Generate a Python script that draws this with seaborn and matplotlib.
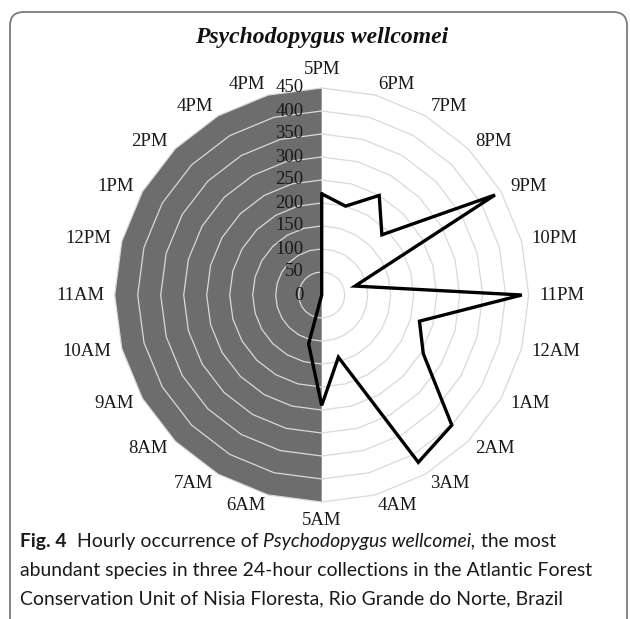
import numpy as np
import pandas as pd
import matplotlib
matplotlib.use("Agg")
import matplotlib.pyplot as plt
import seaborn as sns
from matplotlib.patches import FancyBboxPatch
from matplotlib.font_manager import FontProperties

# ---------------- data ----------------
hours = ["5PM", "6PM", "7PM", "8PM", "9PM", "10PM", "11PM", "12AM", "1AM", "2AM",
         "3AM", "4AM", "5AM", "6AM", "7AM", "8AM", "9AM", "10AM", "11AM", "12PM",
         "1PM", "2PM", "4PM", "4PM"]
counts = [220, 200, 250, 185, 435, 75, 435, 220, 255, 400,
          420, 140, 240, 110, 0, 0, 0, 0, 0, 0,
          0, 0, 0, 0]
r_ticks = [0, 50, 100, 150, 200, 250, 300, 350, 400, 450]
title = "Psychodopygus wellcomei"

# ---------------- figure ----------------
sns.set_theme(style="white")
W, H = 630, 619
fig = plt.figure(figsize=(W / 100, H / 100), dpi=100)
fig.patch.set_facecolor("white")

cx, cy, R = 321.7, 295.0, 207.0  # pixel geometry (from top)
ax = fig.add_axes([(cx - R) / W, (H - cy - R) / H, 2 * R / W, 2 * R / H],
                  projection="polar")
ax.set_theta_zero_location("N")
ax.set_theta_direction(-1)
ax.set_facecolor("none")

n = len(hours)
theta = np.arange(n) * 2 * np.pi / n
rmax = r_ticks[-1]

# shaded (daytime) half
half_t = np.r_[theta[n // 2:], 2 * np.pi, 0.0]
half_r = np.r_[[rmax] * (n // 2 + 1), 0.0]
ax.fill(half_t, half_r, color="#6d6d6d", lw=0, zorder=1, clip_on=False)

# polygonal gridlines
for r in r_ticks[1:]:
    ax.plot(np.r_[theta, 2 * np.pi], [r] * (n + 1), color="#d9d9d9", lw=0.9,
            zorder=2, clip_on=False)

# data line
df = pd.DataFrame({"theta": np.r_[theta, 2 * np.pi],
                   "count": np.r_[counts, counts[0]]})
sns.lineplot(data=df, x="theta", y="count", sort=False, estimator=None,
             color="black", lw=2.4, ax=ax, zorder=3)
for l in ax.lines[-1:]:
    l.set_solid_joinstyle("miter")
    l.set_clip_on(False)

ax.set_ylim(0, rmax)
ax.grid(False)
ax.spines["polar"].set_visible(False)
ax.set_xticks([])
ax.set_yticks([])
ax.set_xlabel("")
ax.set_ylabel("")

serif = "Liberation Serif"
# radial tick labels
for v in r_ticks:
    ax.annotate(str(v), xy=(0, v), xytext=(-13, 0), textcoords="offset points",
                ha="right", va="center", family=serif, fontsize=13.5,
                color="#1a1a1a", zorder=4)

# category labels
k = 7.5
for t, lab in zip(theta, hours):
    s, c = np.sin(t), np.cos(t)
    ha = "left" if s > 0.05 else ("right" if s < -0.05 else "center")
    if abs(s) <= 0.05:
        va = "bottom" if c > 0 else "top"
    else:
        va = "center"
    ax.annotate(lab, xy=(t, rmax), xytext=(s * k, c * k), textcoords="offset points",
                ha=ha, va=va, family=serif, fontsize=13.5, color="#1a1a1a",
                annotation_clip=False)

# title
fig.text(cx / W, 1 - 38 / H, title, ha="center", va="center", family=serif,
         fontsize=17, fontweight="bold", fontstyle="italic", color="#111111")

# frame
frame = FancyBboxPatch((10 / W, -0.1), (627 - 10) / W, (H - 12) / H + 0.1,
                       boxstyle="round,pad=0,rounding_size=0.022",
                       transform=fig.transFigure, fill=False,
                       edgecolor="#7a7a7a", lw=1.3, clip_on=False)
fig.add_artist(frame)

# caption with mixed styles
renderer = fig.canvas.get_renderer()
cap_font = "Lato"


def adv(txt, size, weight="normal", style="normal"):
    fp = FontProperties(family=cap_font, size=size, weight=weight, style=style)
    w1, _, _ = renderer.get_text_width_height_descent("a" + txt + "a", fp, ismath=False)
    w0, _, _ = renderer.get_text_width_height_descent("aa", fp, ismath=False)
    return w1 - w0


x0 = 20.0
line2 = "abundant species in three 24-hour collections in the Atlantic Forest"
base = adv(line2, 10)
cap_size = 10 * (594 - x0) / base

cap_lines = [
    [("Fig. 4", "bold", "normal"), ("  Hourly occurrence of ", "normal", "normal"),
     ("Psychodopygus wellcomei,", "normal", "italic"), (" the most", "normal", "normal")],
    [(line2, "normal", "normal")],
    [("Conservation Unit of Nisia Floresta, Rio Grande do Norte, Brazil", "normal", "normal")],
]
baselines = [547, 576, 604]
for parts, yb in zip(cap_lines, baselines):
    x = x0
    for txt, wt, st in parts:
        fig.text(x / W, 1 - yb / H, txt, ha="left", va="baseline", family=cap_font,
                 fontsize=cap_size, fontweight=wt, fontstyle=st, color="#1a1a1a")
        x += adv(txt, cap_size, wt, st)

fig.savefig("out.png", dpi=100, facecolor="white")
